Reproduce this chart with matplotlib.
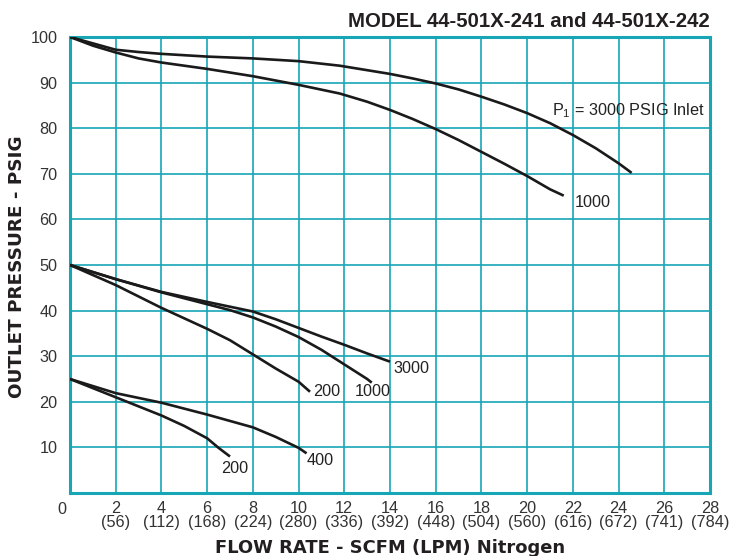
import matplotlib
matplotlib.use("Agg")
import matplotlib.pyplot as plt

plt.rcParams['font.family'] = ['Liberation Sans', 'DejaVu Sans']
plt.rcParams['mathtext.fontset'] = 'custom'
plt.rcParams['mathtext.rm'] = 'Liberation Sans'

# Data (flow SCFM, outlet PSIG)
top3000_x = [0, 1, 2, 3, 4, 6, 8, 10, 11.8, 14, 15, 16, 17, 18, 19, 20, 21, 22, 23, 24, 24.57]
top3000_y = [100, 98.6, 97.2, 96.7, 96.3, 95.7, 95.3, 94.7, 93.7, 91.9, 90.9, 89.8, 88.5, 86.9, 85.2, 83.3, 81.1, 78.5, 75.6, 72.3, 70.2]
top1000_x = [0, 1, 2, 3, 4, 6, 8, 10, 11.8, 13, 14, 15, 16, 17, 18, 19, 20, 21, 21.6]
top1000_y = [100, 98.1, 96.6, 95.3, 94.4, 93.0, 91.4, 89.5, 87.6, 85.8, 84.0, 82.0, 79.8, 77.4, 74.8, 72.2, 69.5, 66.6, 65.2]

mid3000_x = [0, 2, 4, 6, 8, 9, 10, 11, 12, 13, 14.0]
mid3000_y = [50, 46.9, 44.1, 41.9, 39.8, 38.1, 36.2, 34.3, 32.5, 30.6, 28.8]
mid1000_x = [0, 2, 4, 6, 7, 8, 9, 10, 11, 12, 13, 13.2]
mid1000_y = [50, 46.9, 44.0, 41.4, 40.1, 38.5, 36.5, 34.2, 31.4, 28.2, 25.0, 24.2]
mid200_x = [0, 2, 4, 6, 7, 8, 9, 10, 10.5]
mid200_y = [50, 45.6, 40.6, 36.0, 33.5, 30.4, 27.3, 24.4, 22.2]

low400_x = [0, 2, 4, 6, 8, 9, 10, 10.35]
low400_y = [25, 21.9, 19.8, 17.2, 14.4, 12.3, 9.9, 8.7]
low200_x = [0, 2, 4, 5, 6, 6.5, 7.0]
low200_y = [25, 21.0, 17.0, 14.7, 12.0, 9.9, 8.0]

xticks = list(range(2, 29, 2))
lpm = ['56', '112', '168', '224', '280', '336', '392', '448', '504', '560', '616', '672', '741', '784']
yticks = list(range(10, 101, 10))

grid_c = '#16a6b5'
fig = plt.figure(figsize=(7.29, 5.56), dpi=100)
ax = fig.add_axes([0.096, 0.1133, 0.878, 0.8202])
ax.set_xlim(0, 28)
ax.set_ylim(0, 100)

for x in range(0, 29, 2):
    ax.axvline(x, color=grid_c, lw=1.2, zorder=1)
for y in range(0, 101, 10):
    ax.axhline(y, color=grid_c, lw=1.2, zorder=1)
for s in ax.spines.values():
    s.set_color(grid_c)
    s.set_linewidth(2.2)

for xs, ys in [(top3000_x, top3000_y), (top1000_x, top1000_y),
               (mid3000_x, mid3000_y), (mid1000_x, mid1000_y), (mid200_x, mid200_y),
               (low400_x, low400_y), (low200_x, low200_y)]:
    ax.plot(xs, ys, color='#1a1a1a', lw=1.9, zorder=3, solid_capstyle='butt',
            solid_joinstyle='round')

tick_c = '#333333'
ax.set_xticks(xticks)
ax.set_xticklabels([f"{x}\n({l})" for x, l in zip(xticks, lpm)], linespacing=0.9)
ax.set_yticks(yticks)
ax.set_yticklabels([str(y) for y in yticks])
ax.tick_params(length=0, labelsize=11.7, labelcolor=tick_c)
ax.tick_params(axis='y', pad=9)
ax.tick_params(axis='x', pad=6)
ax.text(-0.35, -3.7, '0', ha='center', va='center', fontsize=11.7, color=tick_c)

tc = '#222222'
fs = 11.7
ax.text(22.09, 63.7, '1000', fontsize=fs, color=tc, va='center', ha='left')
ax.text(21.07, 83.8, r'P$_{\mathrm{1}}$ = 3000 PSIG Inlet', fontsize=fs, color=tc,
        va='center', ha='left')
ax.text(14.13, 27.4, '3000', fontsize=fs, color=tc, va='center', ha='left')
ax.text(12.47, 22.2, '1000', fontsize=fs, color=tc, va='center', ha='left')
ax.text(10.62, 22.2, '200', fontsize=fs, color=tc, va='center', ha='left')
ax.text(10.35, 7.2, '400', fontsize=fs, color=tc, va='center', ha='left')
ax.text(6.59, 5.4, '200', fontsize=fs, color=tc, va='center', ha='left')

fig.text(0.974, 0.962, 'MODEL 44-501X-241 and 44-501X-242', ha='right', va='center',
         fontsize=14.7, fontweight='bold', color='#231f20')
fig.text(0.535, 0.014, 'FLOW RATE - SCFM (LPM) Nitrogen', ha='center', va='center',
         fontsize=12.9, fontweight='bold', color='#231f20', family='DejaVu Sans')
fig.text(0.023, 0.521, 'OUTLET PRESSURE - PSIG', ha='center', va='center', rotation=90,
         fontsize=13.2, fontweight='bold', color='#231f20', family='DejaVu Sans')

fig.savefig('out.png', dpi=100)
